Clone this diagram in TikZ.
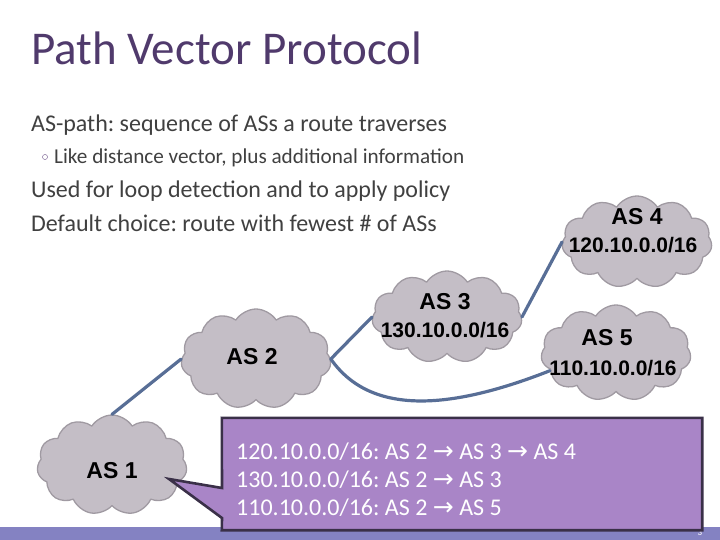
\documentclass[tikz,border=0pt]{standalone}
\usepackage{fontspec}
\setmainfont{Carlito}
\newfontfamily\cloudfont{Liberation Sans}
\newfontfamily\arrowfont{DejaVu Sans}
\usetikzlibrary{shapes.symbols}
\frenchspacing

\definecolor{titlecol}{RGB}{80,58,108}
\definecolor{bodycol}{RGB}{64,64,64}
\definecolor{bulletcol}{RGB}{150,130,170}
\definecolor{cloudfill}{RGB}{196,190,198}
\definecolor{cloudedge}{RGB}{160,154,162}
\definecolor{linkcol}{RGB}{88,110,150}
\definecolor{notefill}{RGB}{169,133,199}
\definecolor{noteedge}{RGB}{58,48,72}
\definecolor{barcol}{RGB}{132,130,194}

\newcommand{\rarr}{ {\arrowfont\fontsize{25}{28}\selectfont→} }

\begin{document}
\begin{tikzpicture}[x=1pt,y=-1pt,line join=round,line cap=round,
    bodytext/.style={anchor=base west,inner sep=0pt,text=bodycol,font=\fontsize{24}{28}\selectfont},
    subtext/.style={anchor=base west,inner sep=0pt,text=bodycol,font=\fontsize{21.2}{24}\selectfont},
    ascloud/.style={cloud,cloud puffs=11,cloud puff arc=115,aspect=1.6,inner sep=0pt,
      fill=cloudfill,draw=cloudedge,line width=1.3pt,minimum width=150pt,minimum height=92pt},
    asname/.style={inner sep=0pt,font=\cloudfont\bfseries\fontsize{23}{26}\selectfont},
    asaddr/.style={inner sep=0pt,font=\cloudfont\bfseries\fontsize{21}{24}\selectfont},
    link/.style={draw=linkcol,line width=3.2pt},
    notetext/.style={anchor=base west,inner sep=0pt,text=white,font=\fontsize{24}{28}\selectfont}]

  \useasboundingbox (0,0) rectangle (720,540);

  % ---- titolo e testo ------------------------------------------------------
  \node[anchor=base west,inner sep=0pt,text=titlecol,font=\fontsize{47}{52}\selectfont]
    (title) at (31,65) {Path Vector Protocol};
  \node[bodytext] (l1) at (31,132) {AS-path: sequence of ASs a route traverses};
  \node[circle,draw=bulletcol,line width=0.6pt,inner sep=1.8pt] (dot) at (45,157) {};
  \node[subtext] (l2) at (54,164) {Like distance vector, plus additional information};
  \node[bodytext] (l3) at (31,198) {Used for loop detection and to apply policy};
  \node[bodytext] (l4) at (31,232) {Default choice: route with fewest \# of ASs};

  % ---- le nuvole AS ---------------------------------------------------------
  \node[ascloud,minimum height=100pt] (as1) at (112,465) {};
  \node[ascloud,minimum height=100pt] (as2) at (256,359) {};
  \node[ascloud] (as3) at (447,317) {};
  \node[ascloud] (as4) at (637,242) {};
  \node[ascloud,minimum height=96pt] (as5) at (616,353) {};

  \node[asname] (as1n) at (112,471) {AS 1};
  \node[asname] (as2n) at (252,357) {AS 2};
  \node[asname] (as3n) at (445,302) {AS 3};
  \node[asaddr] (as3a) at (445,330) {130.10.0.0/16};
  \node[asname] (as4n) at (637,217) {AS 4};
  \node[asaddr] (as4a) at (633,245) {120.10.0.0/16};
  \node[asname] (as5n) at (607,338) {AS 5};
  \node[asaddr] (as5a) at (613,368) {110.10.0.0/16};

  % ---- collegamenti ---------------------------------------------------------
  \draw[link] (as1.north) -- (as2.west);
  \draw[link] (as2.east) -- (as3.west);
  \draw[link] (as3.east) -- (as4.west);
  \draw[link] (as2.east) .. controls (372,418) and (455,408) .. (as5.195);

  % ---- barra in basso -------------------------------------------------------
  \fill[barcol] (0,527) rectangle (720,540);
  \node[inner sep=0pt,text=white,font=\fontsize{9}{10}\selectfont] (pagenum) at (700,533) {3};

  % ---- il fumetto con i percorsi -------------------------------------------
  \node[inner sep=0pt,minimum width=480pt,minimum height=112pt] (note) at (462,474) {};
  \coordinate (tip) at (169,479);
  \draw[fill=notefill,draw=noteedge,line width=2.6pt,line cap=butt,line join=miter]
    (note.north west) -- (note.north east) -- (note.south east) -- (note.south west)
    -- (222,518) -- (tip) -- (222,488) -- cycle;
  \node[notetext] (r1) at (236,459) {120.10.0.0/16: AS 2\rarr AS 3\rarr AS 4};
  \node[notetext] (r2) at (236,487) {130.10.0.0/16: AS 2\rarr AS 3};
  \node[notetext] (r3) at (236,515) {110.10.0.0/16: AS 2\rarr AS 5};

\end{tikzpicture}
\end{document}
